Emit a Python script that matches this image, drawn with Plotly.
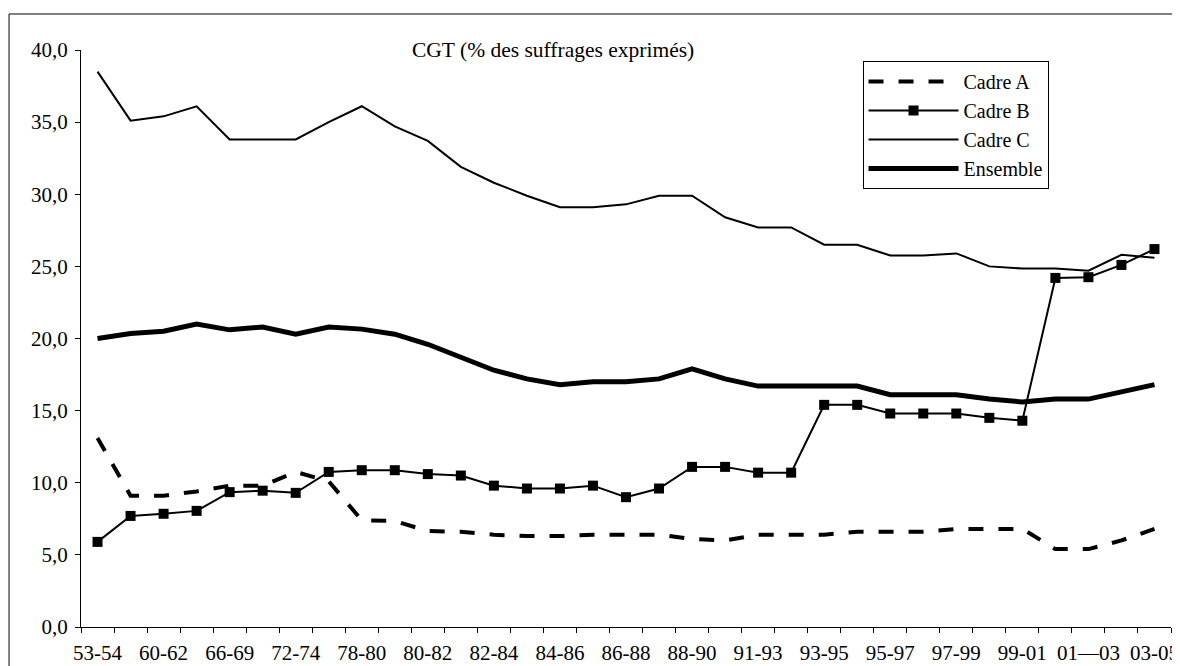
import plotly.graph_objects as go

# Period labels (only every other category is labelled on the axis)
tick_labels = ["53-54", "60-62", "66-69", "72-74", "78-80", "80-82", "82-84", "84-86",
               "86-88", "88-90", "91-93", "93-95", "95-97", "97-99", "99-01", "01\u201403", "03-05"]
n_points = 33
x_idx = list(range(n_points))

cadre_a = [13.1, 9.1, 9.1, 9.4, 9.8, 9.8, 10.75, 10.1, 7.4, 7.35, 6.65, 6.6, 6.4, 6.3, 6.3, 6.4,
           6.4, 6.4, 6.1, 6.0, 6.4, 6.4, 6.4, 6.6, 6.6, 6.6, 6.8, 6.8, 6.8, 5.4, 5.4, 6.0, 6.8]
cadre_b = [5.9, 7.7, 7.85, 8.05, 9.35, 9.45, 9.3, 10.75, 10.87, 10.87, 10.6, 10.5, 9.8, 9.6, 9.6, 9.8,
           9.0, 9.6, 11.1, 11.1, 10.7, 10.7, 15.4, 15.4, 14.8, 14.8, 14.8, 14.5, 14.3, 24.2, 24.25, 25.1, 26.2]
cadre_c = [38.5, 35.1, 35.4, 36.1, 33.8, 33.8, 33.8, 35.0, 36.1, 34.7, 33.7, 31.9, 30.8, 29.9, 29.1, 29.1,
           29.3, 29.9, 29.9, 28.4, 27.7, 27.7, 26.5, 26.5, 25.75, 25.75, 25.9, 25.0, 24.85, 24.85, 24.7, 25.8, 25.6]
ensemble = [20.0, 20.35, 20.5, 21.0, 20.6, 20.8, 20.3, 20.8, 20.65, 20.3, 19.6, 18.7, 17.8, 17.2, 16.8, 17.0,
            17.0, 17.2, 17.9, 17.2, 16.7, 16.7, 16.7, 16.7, 16.1, 16.1, 16.1, 15.8, 15.6, 15.8, 15.8, 16.3, 16.8]

FONT = "Liberation Serif, Times New Roman, serif"

fig = go.Figure()
fig.add_trace(go.Scatter(x=x_idx, y=cadre_a, name="Cadre A", mode="lines",
                         line=dict(color="black", width=4, dash="15px,15px")))
fig.add_trace(go.Scatter(x=x_idx, y=cadre_b, name="Cadre B", mode="lines+markers",
                         line=dict(color="black", width=2),
                         marker=dict(symbol="square", size=10, color="black")))
fig.add_trace(go.Scatter(x=x_idx, y=cadre_c, name="Cadre C", mode="lines",
                         line=dict(color="black", width=2)))
fig.add_trace(go.Scatter(x=x_idx, y=ensemble, name="Ensemble", mode="lines",
                         line=dict(color="black", width=5)))

# The page body has an 8px margin, so the figure is sized/offset to compensate
fig.update_layout(
    width=1172, height=658,
    margin=dict(l=73, r=9, t=42, b=39),
    paper_bgcolor="white", plot_bgcolor="white",
    font=dict(family=FONT, size=21, color="black"),
    separators=", ",
    showlegend=True,
    legend=dict(x=0.717, y=0.981, xanchor="left", yanchor="top",
                bordercolor="black", borderwidth=1, bgcolor="white",
                font=dict(family=FONT, size=20, color="black"),
                itemwidth=90, tracegroupgap=0),
    xaxis=dict(range=[-0.5, n_points - 0.5], automargin=False,
               tickmode="array", tickvals=x_idx[::2], ticktext=tick_labels,
               ticks="", showgrid=False, zeroline=False,
               showline=True, linecolor="black", linewidth=1,
               ticklabelstandoff=7,
               minor=dict(tickmode="array", tickvals=[i - 0.5 for i in range(n_points + 1)],
                          ticks="outside", ticklen=5, tickcolor="black", tickwidth=1, showgrid=False),
               tickfont=dict(family=FONT, size=21, color="black")),
    yaxis=dict(range=[0, 40], automargin=False, tickmode="linear", tick0=0, dtick=5, tickformat=".1f",
               ticks="outside", ticklen=5, tickcolor="black",
               showgrid=False, zeroline=False,
               showline=True, linecolor="black", linewidth=1,
               ticklabelstandoff=3,
               tickfont=dict(family=FONT, size=21, color="black")),
    annotations=[dict(text="CGT (% des suffrages exprimés)", xref="paper", yref="paper",
                      x=0.433, y=1.0, xanchor="center", yanchor="middle", showarrow=False,
                      font=dict(family=FONT, size=21.5, color="black"))],
    shapes=[dict(type="rect", xref="paper", yref="paper",
                 x0=-0.066, x1=1.0046, y0=-0.1, y1=1.0624,
                 line=dict(color="black", width=1), fillcolor="rgba(0,0,0,0)", layer="below")],
)

fig.write_html("out.html")
